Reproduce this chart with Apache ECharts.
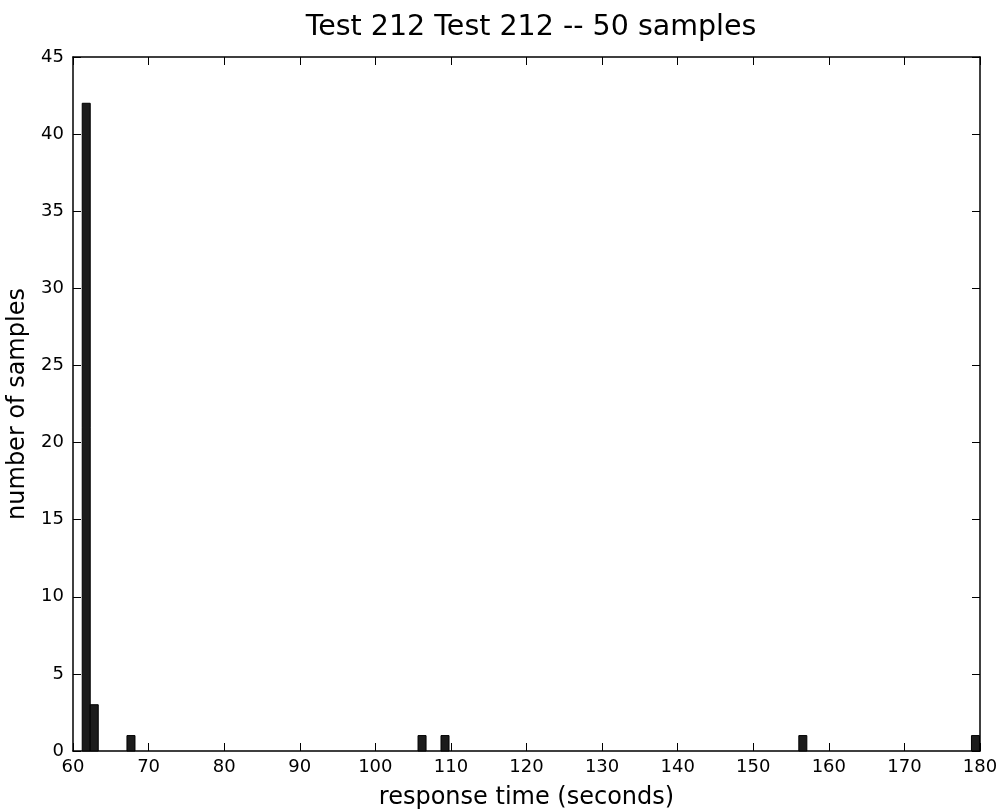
<!DOCTYPE html>
<html>
<head>
<meta charset="utf-8">
<script src="https://cdn.jsdelivr.net/npm/echarts@6/dist/echarts.min.js"></script>
<style>html,body{margin:0;padding:0;background:#fff;}#c{width:1003px;height:809px;}</style>
</head>
<body>
<div id="c"></div>
<script>
// Data
const binStarts = [61.22, 62.28, 67.14, 105.65, 108.69, 156.03, 178.87];
const binCounts = [42, 3, 1, 1, 1, 1, 1];
const binWidth = 1.06;
const titleText = 'Test 212 Test 212 -- 50 samples';
const xLabel = 'response time (seconds)';
const yLabel = 'number of samples';

const font = 'DejaVu Sans';
const data = binStarts.map((s, i) => [s, s + binWidth, binCounts[i]]);

const chart = echarts.init(document.getElementById('c'), null, {renderer: 'canvas'});
const axisCommon = {
  axisLine: {show: true, onZero: false, lineStyle: {color: '#000', width: 1.5}},
  axisTick: {show: true, inside: true, length: 8, lineStyle: {color: '#000', width: 1}},
  splitLine: {show: false}
};
chart.setOption({
  animation: false,
  backgroundColor: '#fff',
  title: {
    text: titleText, left: 526, top: 8, textAlign: 'center',
    textStyle: {fontFamily: font, fontSize: 28.5, fontWeight: 'normal', color: '#000'}
  },
  grid: {left: 73, right: 23, top: 57, bottom: 58, outerBoundsMode: 'none', containLabel: false},
  xAxis: [
    Object.assign({
      type: 'value', min: 60, max: 180, interval: 10, position: 'bottom',
      name: xLabel, nameLocation: 'middle', nameGap: 35,
      nameTextStyle: {fontFamily: font, fontSize: 24, color: '#000'},
      axisLabel: {fontFamily: font, fontSize: 18, color: '#000', margin: 7}
    }, axisCommon),
    Object.assign({
      type: 'value', min: 60, max: 180, interval: 10, position: 'top',
      axisLabel: {show: false}
    }, axisCommon)
  ],
  yAxis: [
    Object.assign({
      type: 'value', min: 0, max: 45, interval: 5, position: 'left',
      name: yLabel, nameLocation: 'middle', nameGap: 31, nameRotate: 90,
      nameTextStyle: {fontFamily: font, fontSize: 24, color: '#000'},
      axisLabel: {fontFamily: font, fontSize: 18, color: '#000', margin: 9}
    }, axisCommon),
    Object.assign({
      type: 'value', min: 0, max: 45, interval: 5, position: 'right',
      axisLabel: {show: false}
    }, axisCommon)
  ],
  series: [{
    type: 'custom',
    xAxisIndex: 0, yAxisIndex: 0,
    data: data,
    encode: {x: [0, 1], y: 2},
    renderItem: function (params, api) {
      const p0 = api.coord([api.value(0), api.value(2)]);
      const p1 = api.coord([api.value(1), 0]);
      return {
        type: 'rect',
        shape: {x: p0[0], y: p0[1], width: p1[0] - p0[0], height: p1[1] - p0[1]},
        style: {fill: '#1c1c1c', stroke: '#000', lineWidth: 1}
      };
    }
  }]
});
</script>
</body>
</html>
